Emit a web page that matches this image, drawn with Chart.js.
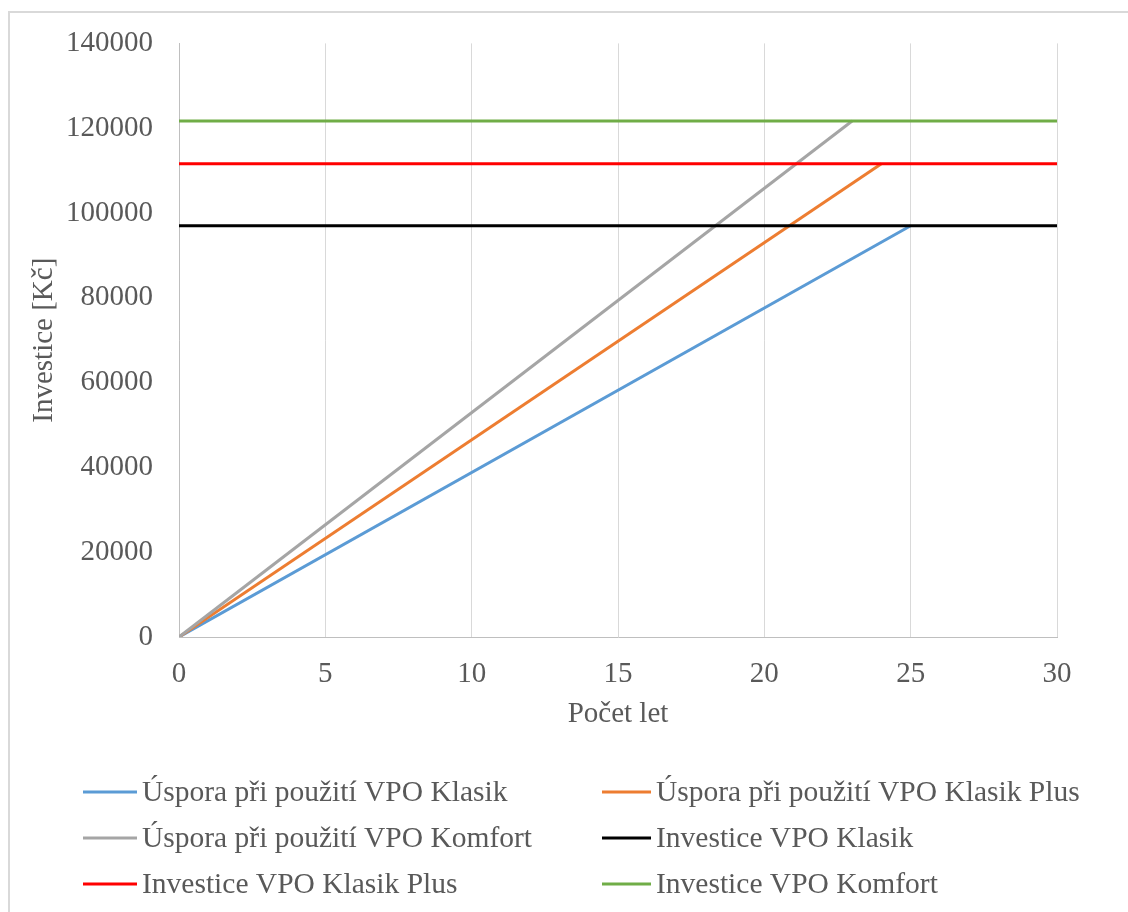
<!DOCTYPE html>
<html>
<head>
<meta charset="utf-8">
<script src="https://cdn.jsdelivr.net/npm/chart.js@4"></script>
<style>
   html, body { margin: 0; padding: 0; background: #fff; }
   #wrap { width: 1128px; height: 912px; }
</style>
</head>
<body>
<div id="wrap"><canvas id="paybackChart" width="1128" height="912"></canvas></div>
<script>
// years on the x axis (start / end of each line)
const klasikYears = [0, 25];
const plusYears = [0, 24];
const komfortYears = [0, 23];
const horizonYears = [0, 30];

// savings [Kč]
const klasikSavings = [0, 97000];
const plusSavings = [0, 111600];
const komfortSavings = [0, 121700];

// investment [Kč]
const klasikInvest = [97000, 97000];
const plusInvest = [111600, 111600];
const komfortInvest = [121700, 121700];

const seriesNames = [
   'Úspora při použití VPO Klasik',
   'Úspora při použití VPO Klasik Plus',
   'Úspora při použití VPO Komfort',
   'Investice VPO Klasik',
   'Investice VPO Klasik Plus',
   'Investice VPO Komfort'
];
const seriesColors = ['#5b9bd5', '#ed7d31', '#a5a5a5', '#000000', '#ff0000', '#70ad47'];
const seriesX = [klasikYears, plusYears, komfortYears, horizonYears, horizonYears, horizonYears];
const seriesY = [klasikSavings, plusSavings, komfortSavings, klasikInvest, plusInvest, komfortInvest];

const xTicks = [0, 5, 10, 15, 20, 25, 30];
const yTicks = [0, 20000, 40000, 60000, 80000, 100000, 120000, 140000];

const fontFamily = '"Liberation Serif", "Times New Roman", serif';
const textColor = '#595959';

const toPoints = (xs, ys) => xs.map((x, i) => ({ x: x, y: ys[i] }));

// outer frame + two-column legend
const frameAndLegend = {
   id: 'frameAndLegend',
   beforeDraw(chart) {
      const c = chart.ctx;
      c.save();
      c.strokeStyle = '#d9d9d9';
      c.lineWidth = 2;
      c.strokeRect(9, 12, 1300, 1100);
      c.restore();
   },
   afterDraw(chart) {
      const c = chart.ctx;
      const cols = [{ x0: 83, x1: 137, tx: 142 }, { x0: 602, x1: 651, tx: 656 }];
      const rows = [792, 838, 884];
      c.save();
      c.font = '29.5px ' + fontFamily;
      c.textBaseline = 'middle';
      c.fillStyle = textColor;
      seriesNames.forEach((name, i) => {
         const col = cols[i % 2];
         const y = rows[Math.floor(i / 2)];
         c.strokeStyle = seriesColors[i];
         c.lineWidth = 3;
         c.beginPath();
         c.moveTo(col.x0, y);
         c.lineTo(col.x1, y);
         c.stroke();
         c.fillText(name, col.tx, y + 1);
      });
      c.restore();
   }
};

const ctx = document.getElementById('paybackChart').getContext('2d');
const paybackChart = new Chart(ctx, {
   type: 'line',
   data: {
      datasets: seriesNames.map((name, i) => ({
         label: name,
         data: toPoints(seriesX[i], seriesY[i]),
         borderColor: seriesColors[i],
         backgroundColor: seriesColors[i],
         borderWidth: 3,
         pointRadius: 0,
         tension: 0,
         order: seriesNames.length - i
      }))
   },
   options: {
      responsive: false,
      animation: false,
      events: [],
      layout: {
         padding: { left: 0, top: 42, right: 71, bottom: 175 }
      },
      plugins: {
         legend: { display: false },
         tooltip: { enabled: false }
      },
      scales: {
         x: {
            type: 'linear',
            min: 0,
            max: 30,
            afterBuildTicks: (scale) => { scale.ticks = xTicks.map(v => ({ value: v })); },
            afterFit: (scale) => { scale.height = 100; },
            ticks: {
               color: textColor,
               font: { family: fontFamily, size: 29 },
               padding: 20,
               maxRotation: 0
            },
            grid: { color: '#d9d9d9', lineWidth: 1, drawTicks: false },
            border: { color: '#bfbfbf', width: 1 },
            title: {
               display: true,
               text: 'Počet let',
               color: textColor,
               font: { family: fontFamily, size: 29 },
               padding: { top: 0, bottom: 5 }
            }
         },
         y: {
            type: 'linear',
            min: 0,
            max: 140000,
            afterBuildTicks: (scale) => { scale.ticks = yTicks.map(v => ({ value: v })); },
            afterFit: (scale) => { scale.width = 179; },
            ticks: {
               color: textColor,
               font: { family: fontFamily, size: 29 },
               padding: 26,
               callback: (v) => String(v)
            },
            grid: { display: false, drawTicks: false },
            border: { color: '#bfbfbf', width: 1 },
            title: {
               display: true,
               text: 'Investice [Kč]',
               color: textColor,
               font: { family: fontFamily, size: 29 },
               padding: { top: 27, bottom: 0 }
            }
         }
      }
   },
   plugins: [frameAndLegend]
});
</script>
</body>
</html>
